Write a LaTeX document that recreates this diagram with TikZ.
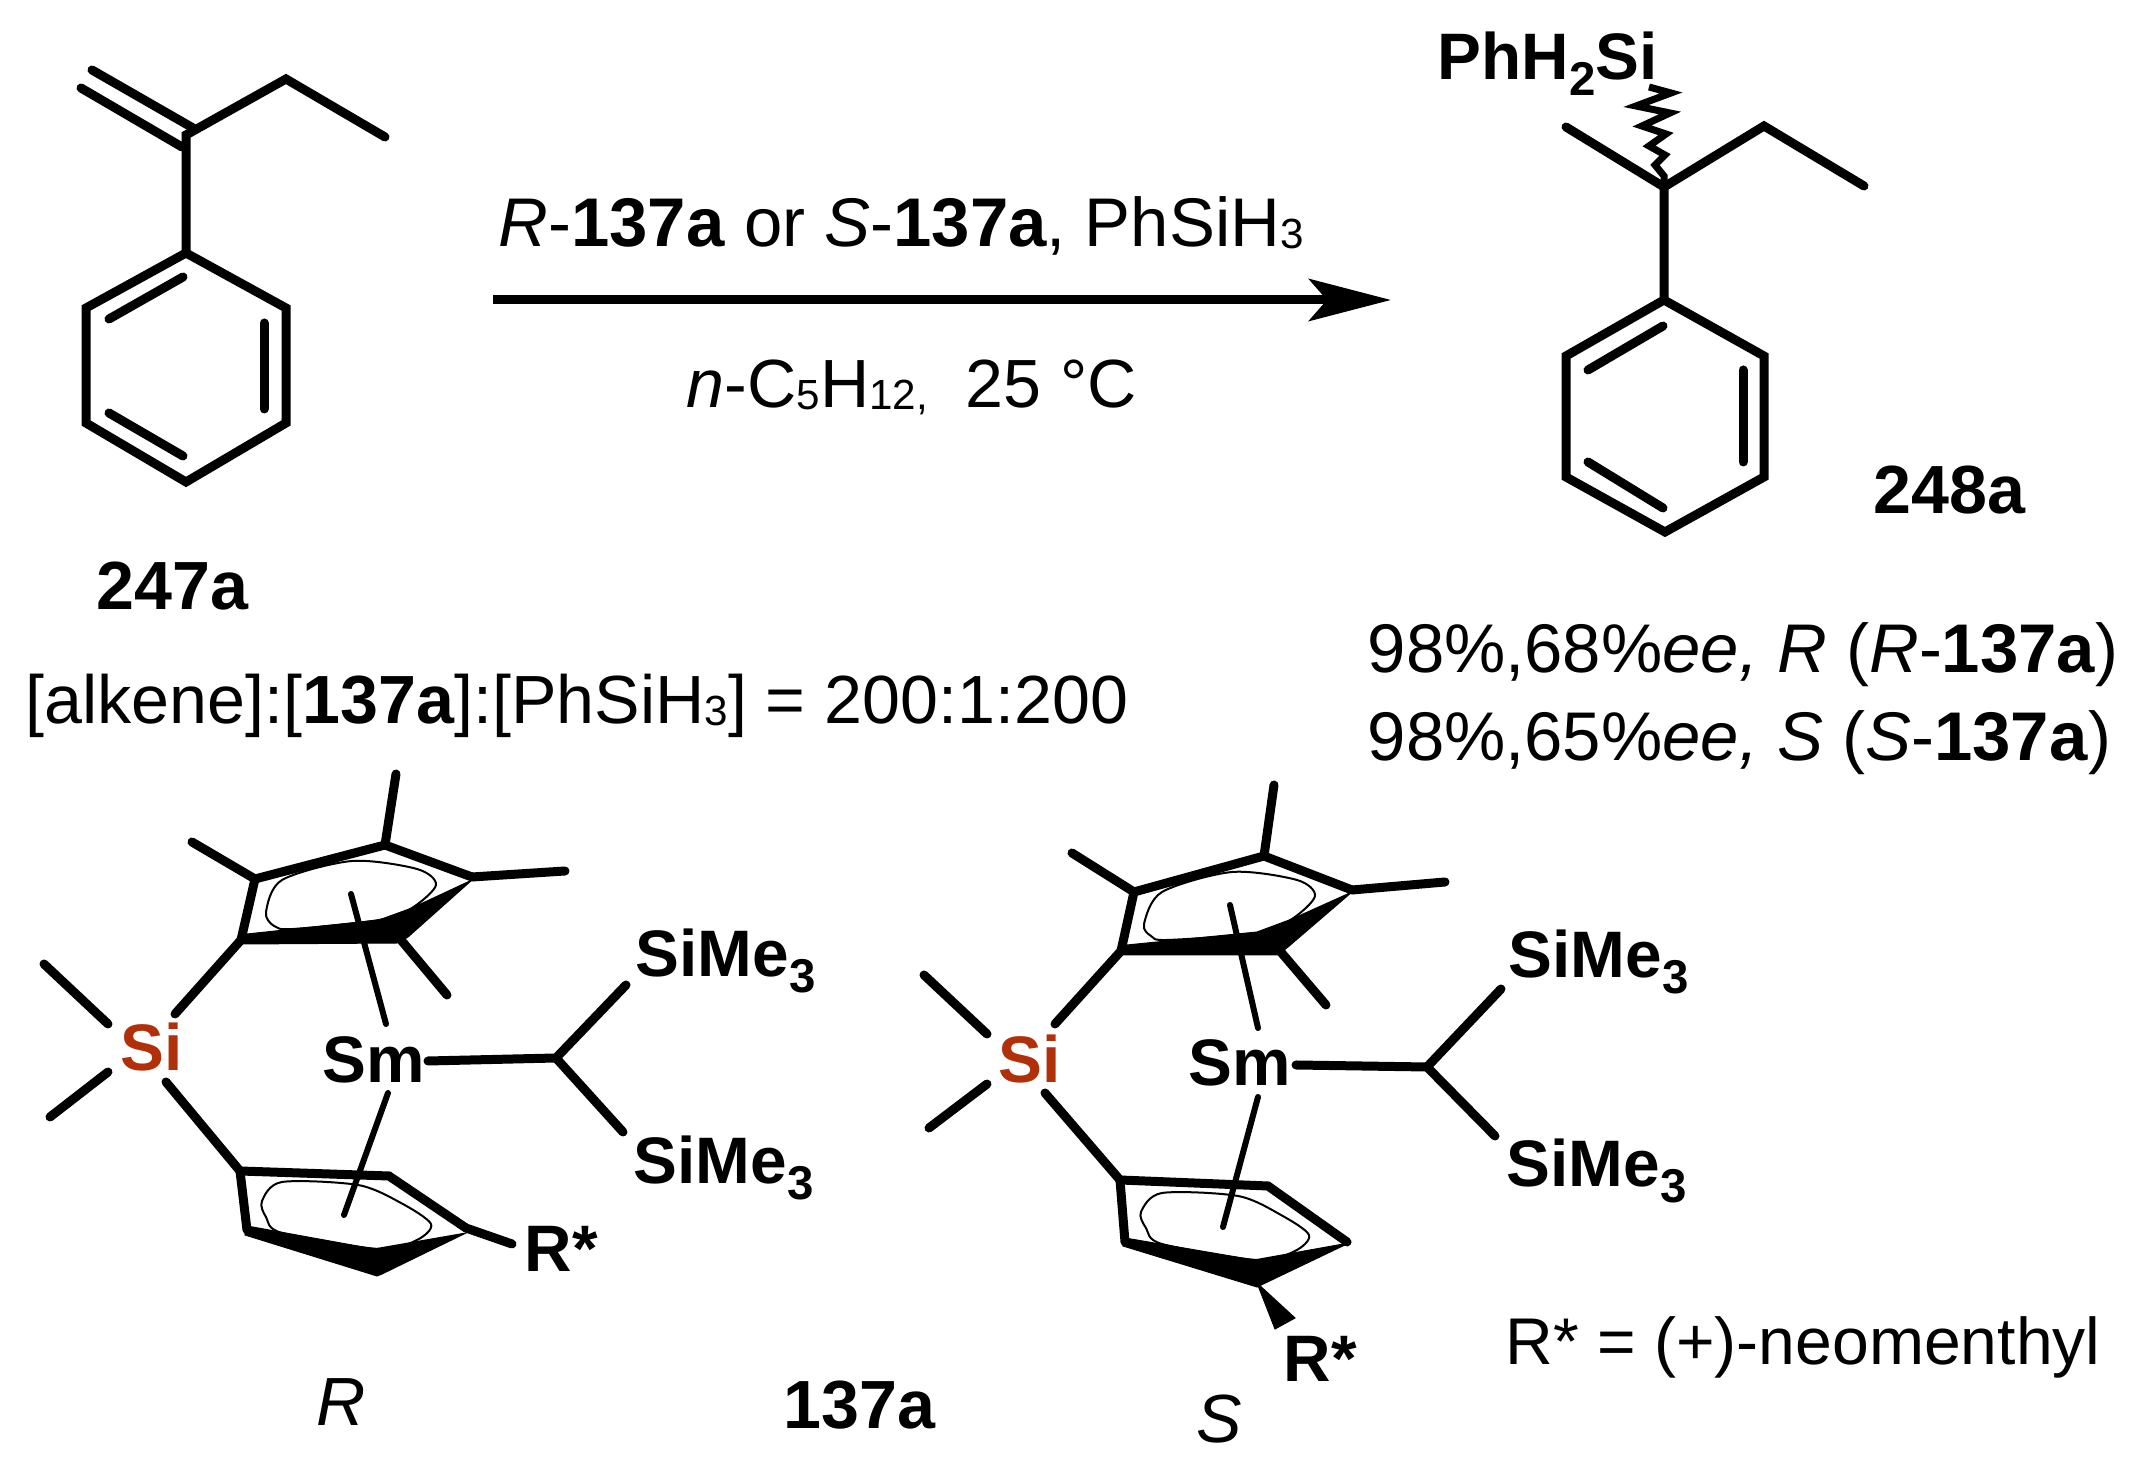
\documentclass[tikz,border=0pt]{standalone}
\usepackage{fontspec}
\setmainfont{Liberation Sans}
\usetikzlibrary{arrows.meta}
\newcommand{\subreg}[1]{\raisebox{-0.5pt}{\fontsize{12}{12}\selectfont #1}}
\newcommand{\subbold}[1]{\raisebox{-4.5pt}{\fontsize{13.5}{14}\selectfont\bfseries #1}}
\tikzset{
  bond/.style={line width=0.9mm, line cap=round, line join=miter},
  hapto/.style={line width=0.6mm, line cap=round},
  loopring/.style={line width=0.2mm},
  squig/.style={line width=0.7mm, line join=miter},
  wedge/.style={fill=black, draw=black, line width=0.1mm},
  txt/.style={anchor=base west, inner sep=0pt, font=\fontsize{19.4}{23}\selectfont},
  atom/.style={txt, font=\fontsize{18.7}{23}\selectfont\bfseries},
  numlab/.style={txt, font=\fontsize{19.4}{23}\selectfont\bfseries},
}
\begin{document}
\begin{tikzpicture}[x=0.1mm, y=-0.1mm]
\useasboundingbox (0,0) rectangle (2153,1466);
% alkene
\coordinate (la) at (186,135);
\coordinate (lb) at (186,253);
\coordinate (lc) at (286,308);
\coordinate (ld) at (286,423);
\coordinate (le) at (186,482);
\coordinate (lf) at (86,423);
\coordinate (lg) at (86,308);
\coordinate (lh) at (286,79);
\coordinate (li) at (385,137);
\draw [bond] (lb) -- (lc) -- (ld) -- (le) -- (lf) -- (lg) -- cycle;
\draw [bond] (lb) -- (la) -- (lh) -- (li);
\draw [bond] (92,70) -- (193,128);
\draw [bond] (81,88) -- (182,147);
\draw [bond] (183,277) -- (109,319);
\draw [bond] (264,323) -- (264,409);
\draw [bond] (109,413) -- (183,456);
\node [numlab] (n247) at (96,610) {247a};
\node [txt] (ratio) at (25,724) {[alkene]:[\textbf{137a}]:[PhSiH\subreg{3}] = 200:1:200};
% arrow
\coordinate (ar1) at (493,300);
\coordinate (ar2) at (1391,300);
\draw [line width=0.9mm, -{Stealth[length=8.2mm 0 0, width=4.2mm, inset=1.8mm]}] (ar1) -- (ar2);
\node [txt, font=\fontsize{19.6}{23}\selectfont] (cond1) at (498,247) {\textit{R}-\textbf{137a} or \textit{S}-\textbf{137a}, PhSiH\subreg{3}};
\node [txt] (cond2) at (686,408) {\textit{n}-C\subreg{5}H\subreg{12,}\ \ 25 °C};
% product
\coordinate (pa) at (1664,187);
\coordinate (pb) at (1664,300);
\coordinate (pc) at (1764,356);
\coordinate (pd) at (1764,477);
\coordinate (pe) at (1665,532);
\coordinate (pf) at (1566,477);
\coordinate (pg) at (1566,356);
\coordinate (ph) at (1764,126);
\coordinate (pi) at (1864,186);
\coordinate (pj) at (1566,127);
\draw [bond] (pb) -- (pc) -- (pd) -- (pe) -- (pf) -- (pg) -- cycle;
\draw [bond] (pb) -- (pa) -- (ph) -- (pi);
\draw [bond] (pa) -- (pj);
\draw [bond] (1663,326) -- (1588,370);
\draw [bond] (1743,370) -- (1743,462);
\draw [bond] (1588,462) -- (1663,508);
\draw [squig] (pa) -- (1664,176) -- (1655,165) -- (1665,155) -- (1649,146) -- (1666,134) -- (1642,126) -- (1670,113) -- (1636,106) -- (1671,93) -- (1649,87);
\node [atom] (silane) at (1437,80) {PhH\subbold{2}Si};
\node [numlab] (n248) at (1873,514) {248a};
\node [txt, font=\fontsize{19.6}{23}\selectfont] (res1) at (1367,673) {98\%,68\%\textit{ee, R} (\textit{R}-\textbf{137a})};
\node [txt, font=\fontsize{19.6}{23}\selectfont] (res2) at (1367,761) {98\%,65\%\textit{ee, S} (\textit{S}-\textbf{137a})};
% R complex
\coordinate (ra) at (241,940);
\coordinate (rb) at (255,879);
\coordinate (rc) at (385,845);
\coordinate (rd) at (472,877);
\coordinate (re) at (401,940);
\coordinate (rf) at (240,1171);
\coordinate (rg) at (389,1176);
\coordinate (rh) at (466,1228);
\coordinate (ri) at (378,1272);
\coordinate (rj) at (247,1230);
\coordinate (rk) at (556,1058);
\draw [loopring] plot [smooth cycle] coordinates {(266,912) (282,880) (352,861) (417,869) (436,885) (412,908) (379,920) (293,929) (274,926)};
\draw [loopring] plot [smooth cycle] coordinates {(262,1201) (282,1182) (358,1185) (401,1203) (431,1224) (417,1240) (379,1249) (282,1233) (266,1217)};
\draw [bond] (ra) -- (rb) -- (rc) -- (rd);
\draw [bond] (rf) -- (rg) -- (rh);
\draw [bond] (rj) -- (rf);
\draw [wedge] (241,944) -- (398,943) -- (408,937) -- (472,880) -- (412,908) -- (379,920) -- (247,934) -- cycle;
\draw [wedge] (245,1235) -- (377,1276) -- (382,1274) -- (466,1233) -- (374,1249) -- (247,1226) -- cycle;
\draw [bond] (rb) -- (192,842);
\draw [bond] (rc) -- (396,774);
\draw [bond] (rd) -- (565,871);
\draw [bond] (re) -- (447,995);
\draw [bond] (ra) -- (175,1014);
\draw [bond] (108,1024) -- (44,964);
\draw [bond] (108,1072) -- (50,1117);
\draw [bond] (166,1082) -- (rf);
\draw [bond] (rh) -- (512,1244);
\draw [bond] (428,1061) -- (rk);
\draw [bond] (rk) -- (626,985);
\draw [bond] (rk) -- (623,1132);
\draw [hapto] (351,894) -- (386,1024);
\draw [hapto] (388,1093) -- (344,1215);
\node [atom, text={rgb,255:red,176;green,48;blue,10}] (rsi) at (120,1071) {Si};
\node [atom] (rsm) at (322,1083) {Sm};
\node [atom] (rtms1) at (635,977) {SiMe\subbold{3}};
\node [atom] (rtms2) at (633,1184) {SiMe\subbold{3}};
\node [atom] (rstar) at (524,1272) {R*};
\node [txt] (rlab) at (316,1426) {\textit{R}};
\node [numlab] (n137) at (783,1429) {137a};
% S complex
\coordinate (sa) at (1121,951);
\coordinate (sb) at (1134,892);
\coordinate (sc) at (1264,856);
\coordinate (sd) at (1352,890);
\coordinate (se) at (1280,951);
\coordinate (sf) at (1120,1180);
\coordinate (sg) at (1268,1186);
\coordinate (sh) at (1347,1242);
\coordinate (si) at (1257,1283);
\coordinate (sj) at (1125,1242);
\coordinate (sk) at (1427,1067);
\draw [loopring] plot [smooth cycle] coordinates {(1144,924) (1162,892) (1232,872) (1297,880) (1315,896) (1292,919) (1257,933) (1167,940) (1151,936)};
\draw [loopring] plot [smooth cycle] coordinates {(1141,1212) (1162,1193) (1238,1196) (1281,1215) (1309,1235) (1295,1251) (1257,1260) (1162,1244) (1146,1228)};
\draw [bond] (sa) -- (sb) -- (sc) -- (sd);
\draw [bond] (sf) -- (sg) -- (sh);
\draw [bond] (sj) -- (sf);
\draw [wedge] (1121,955) -- (1278,955) -- (1288,947) -- (1352,892) -- (1292,919) -- (1257,932) -- (1127,945) -- cycle;
\draw [wedge] (1123,1246) -- (1257,1287) -- (1349,1243) -- (1254,1260) -- (1125,1238) -- cycle;
\draw [wedge] (si) -- (1295,1318) -- (1275,1329) -- cycle;
\draw [bond] (sb) -- (1072,853);
\draw [bond] (sc) -- (1274,785);
\draw [bond] (sd) -- (1445,882);
\draw [bond] (se) -- (1326,1005);
\draw [bond] (sa) -- (1055,1024);
\draw [bond] (987,1034) -- (924,975);
\draw [bond] (987,1084) -- (929,1128);
\draw [bond] (1045,1093) -- (sf);
\draw [bond] (1296,1065) -- (sk);
\draw [bond] (sk) -- (1501,989);
\draw [bond] (sk) -- (1495,1136);
\draw [hapto] (1230,905) -- (1258,1028);
\draw [hapto] (1258,1097) -- (1223,1227);
\node [atom, text={rgb,255:red,176;green,48;blue,10}] (ssi) at (998,1083) {Si};
\node [atom] (ssm) at (1188,1086) {Sm};
\node [atom] (stms1) at (1508,978) {SiMe\subbold{3}};
\node [atom] (stms2) at (1506,1187) {SiMe\subbold{3}};
\node [atom] (sstar) at (1283,1382) {R*};
\node [txt] (slab) at (1196,1443) {\textit{S}};
\node [txt, font=\fontsize{18.8}{23}\selectfont] (neo) at (1505,1365) {R* = (+)-neomenthyl};
\end{tikzpicture}
\end{document}
